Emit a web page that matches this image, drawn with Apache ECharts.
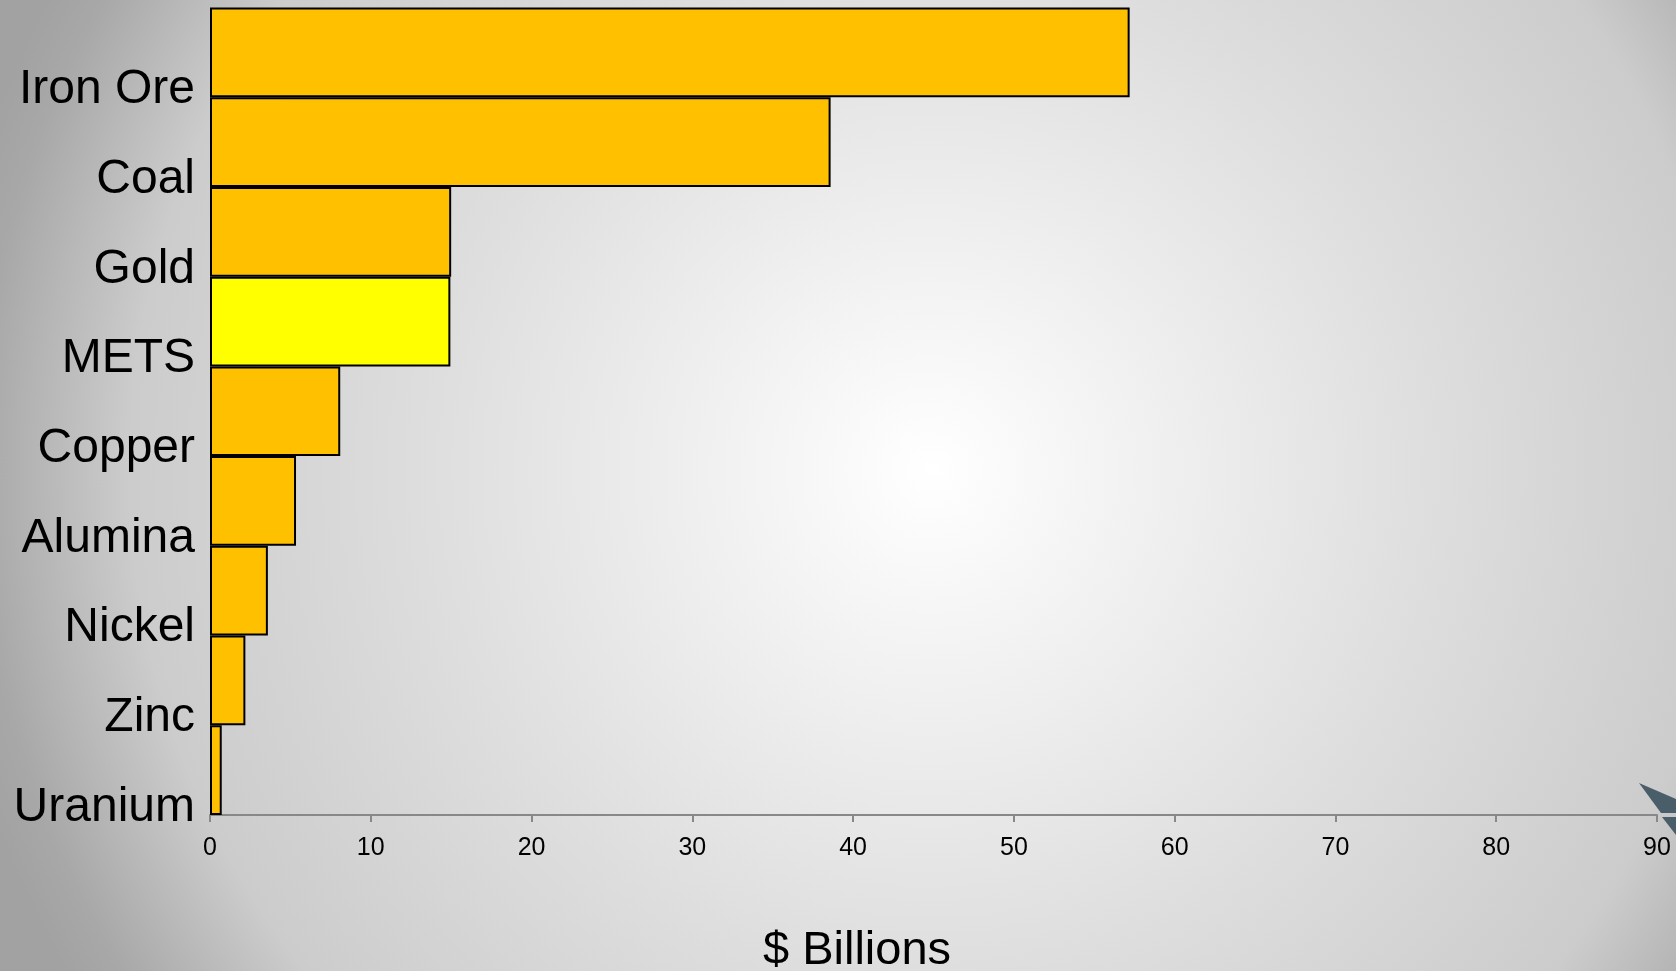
<!DOCTYPE html>
<html>
<head>
<meta charset="utf-8">
<script src="https://cdn.jsdelivr.net/npm/echarts@6/dist/echarts.min.js"></script>
<style>
html,body{margin:0;padding:0;width:100%;height:100%;overflow:hidden;}
#chart{width:1676px;height:971px;}
</style>
</head>
<body>
<div id="chart"></div>
<script>
var categories = ['Iron Ore','Coal','Gold','METS','Copper','Alumina','Nickel','Zinc','Uranium'];
var values = [57.2, 38.6, 15.0, 14.95, 8.1, 5.35, 3.6, 2.2, 0.73];
var highlight = 'METS';
var xTicks = [0,10,20,30,40,50,60,70,80,90];

var FONT = '"Liberation Sans", Arial, sans-serif';
var chart = echarts.init(document.getElementById('chart'));
var option = {
  backgroundColor: {
    type: 'radial', x: 930, y: 470, r: 1000, global: true,
    colorStops: [
      {offset: 0, color: '#ffffff'},
      {offset: 0.5, color: '#dedede'},
      {offset: 0.8, color: '#cccccc'},
      {offset: 0.95, color: '#a8a8a8'},
      {offset: 1, color: '#a2a2a2'}
    ]
  },
  animation: false,
  grid: {left: 210, right: 19, top: 7.5, bottom: 156, containLabel: false, outerBoundsMode: 'none'},
  xAxis: {
    type: 'value',
    min: xTicks[0], max: xTicks[xTicks.length-1], interval: 10,
    splitLine: {show: false},
    axisLine: {show: true, lineStyle: {color: '#888888', width: 2}},
    axisTick: {show: true, length: 7, lineStyle: {color: '#888888', width: 2}},
    axisLabel: {fontSize: 25, color: '#000000', fontFamily: FONT, margin: 21},
    name: '$ Billions',
    nameLocation: 'middle',
    nameGap: 113,
    nameTextStyle: {fontSize: 47, color: '#000000', fontFamily: FONT, padding: [0, 153, 0, 0]}
  },
  yAxis: {
    type: 'category',
    data: categories,
    inverse: true,
    axisLine: {show: false},
    axisTick: {show: false},
    splitLine: {show: false},
    axisLabel: {fontSize: 48, color: '#000000', fontFamily: FONT, margin: 15, verticalAlign: 'top', lineHeight: 75}
  },
  series: [{
    type: 'bar',
    barCategoryGap: '0%',
    data: values.map(function(v, i){
      return {value: v, itemStyle: {color: categories[i] === highlight ? '#FFFF00' : '#FFC000'}};
    }),
    itemStyle: {borderColor: '#000000', borderWidth: 2},
    z: 3
  }],
  graphic: [
    {type: 'polygon', z: 100, shape: {points: [[1639,783],[1676,799],[1676,813],[1661,813]]}, style: {fill: '#4a5e6a'}},
    {type: 'polygon', z: 100, shape: {points: [[1662,817],[1676,817],[1676,835]]}, style: {fill: '#4a5e6a'}}
  ]
};
chart.setOption(option);
</script>
</body>
</html>
